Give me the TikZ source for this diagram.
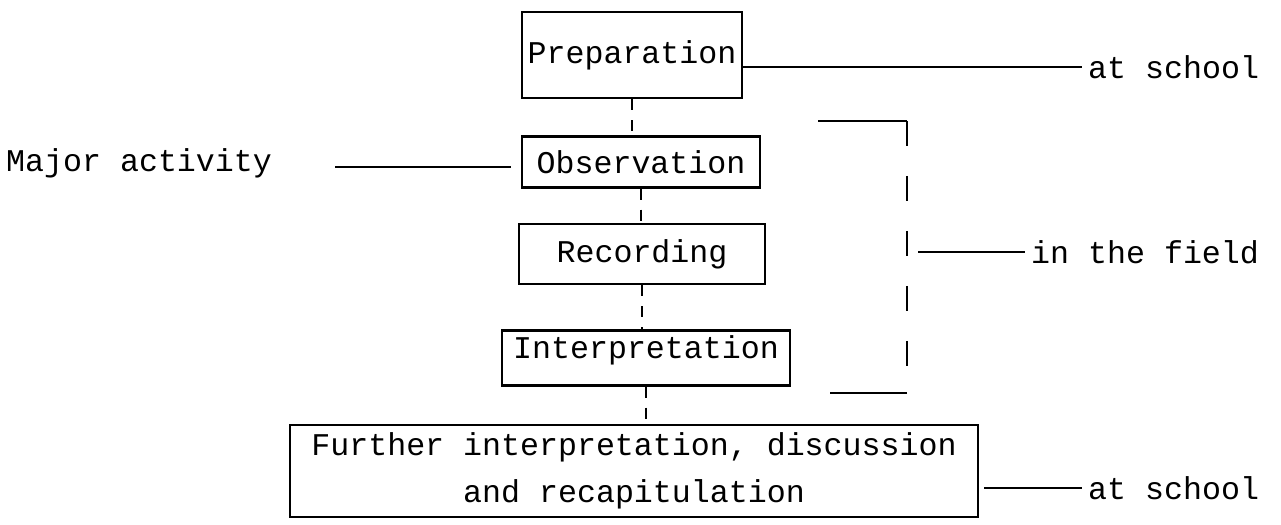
\documentclass[tikz,border=0pt]{standalone}
\usepackage{fontspec}
\setmonofont{Liberation Mono}
\usetikzlibrary{positioning}

\begin{document}
\begin{tikzpicture}[x=0.02cm, y=-0.02cm, font=\ttfamily\fontsize{18}{27}\selectfont,
  box/.style={rectangle, draw, line width=1.4pt, inner sep=0pt, align=center},
  link/.style={line width=1.4pt},
  dashlink/.style={line width=1.4pt, dash pattern=on 0.22cm off 0.2cm},
  bracketlink/.style={line width=1.4pt, dash pattern=on 0.5cm off 0.6cm}
]
\useasboundingbox (0,0) rectangle (1281,524);

% stages
\node[box, minimum width=4.4cm, minimum height=1.72cm] (prep) at (632,55) {Preparation};
\node[box, minimum width=4.76cm, minimum height=1.02cm] (obs) at (641,162) {Observation};
\node[box, minimum width=4.92cm, minimum height=1.2cm] (rec) at (642,254) {Recording};
\node[box, minimum width=5.76cm, minimum height=1.1cm, text height=0.45cm, text depth=0.45cm] (interp) at (646,358) {Interpretation};
\node[box, minimum width=13.76cm, minimum height=1.84cm] (further) at (634,471) {Further interpretation, discussion\\and recapitulation};

\draw[dashlink] (prep.south) -- (prep.south |- obs.north);
\draw[dashlink] (obs.south) -- (obs.south |- rec.north);
\draw[dashlink] (rec.south) -- (rec.south |- interp.north);
\draw[dashlink] (interp.south) -- (interp.south |- further.north);

% labels
\node[anchor=west] (school1) at (1082,67) {at school};
\draw[link] (prep.east |- school1) -- (school1.west);

\node[anchor=west] (major) at (0,163) {Major activity};
\coordinate (majorend) at (335,167);
\draw[link] (majorend) -- ([xshift=-0.2cm]obs.west |- majorend);

% field bracket
\coordinate (brtop) at (818,121);
\coordinate (brtopr) at (907,121);
\coordinate (brbot) at (907,393);
\coordinate (brbotl) at (830,393);
\coordinate (brmid) at (918,252);
\draw[link] (brtop) -- (brtopr);
\draw[bracketlink] (brtopr) -- (brbot);
\draw[link] (brbot) -- (brbotl);
\node[anchor=west] (field) at (1025,252) {in the field};
\draw[link] (brmid) -- (field.west);

\node[anchor=west] (school2) at (1082,488) {at school};
\draw[link] ([xshift=0.1cm]further.east |- school2) -- (school2.west);

\end{tikzpicture}
\end{document}
